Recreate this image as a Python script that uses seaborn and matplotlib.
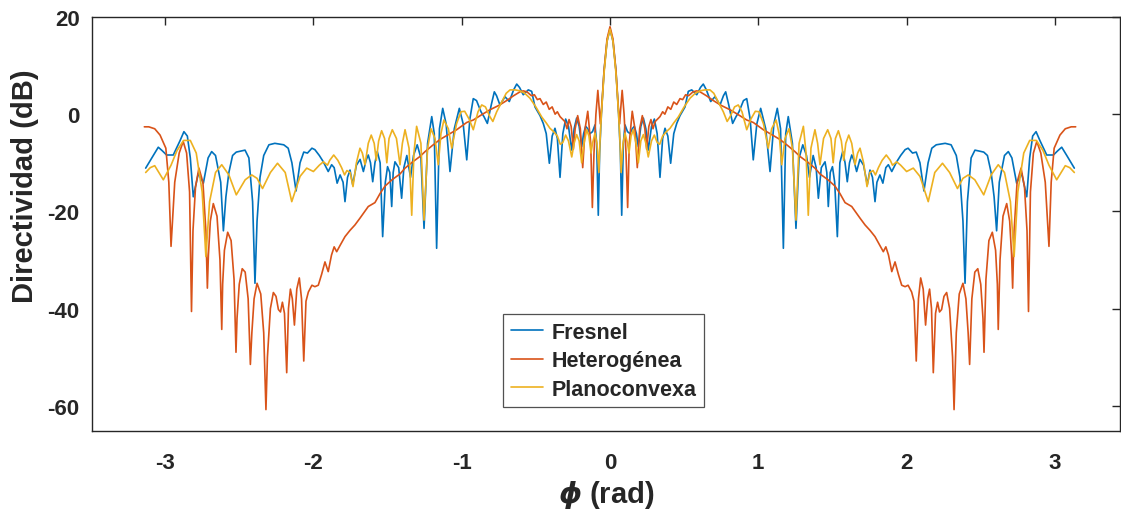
import numpy as np
import pandas as pd
import matplotlib
matplotlib.use("Agg")
import matplotlib.pyplot as plt
import seaborn as sns

# ---- data (right half, phi >= 0); pattern is symmetric ----
phi_fresnel = [0.000, 0.020, 0.040, 0.058, 0.070, 0.079, 0.090, 0.101, 0.118, 0.135, 0.150, 0.164,
               0.178, 0.191, 0.208, 0.225, 0.242, 0.258, 0.280, 0.299, 0.318, 0.337, 0.355, 0.371,
               0.390, 0.409, 0.430, 0.450, 0.472, 0.506, 0.528, 0.551, 0.585, 0.610, 0.629, 0.650,
               0.679, 0.708, 0.742, 0.765, 0.780, 0.800, 0.827, 0.850, 0.870, 0.900, 0.922, 0.945,
               0.966, 0.990, 1.016, 1.050, 1.079, 1.105, 1.128, 1.150, 1.169, 1.185, 1.202, 1.230,
               1.254, 1.275, 1.300, 1.325, 1.345, 1.370, 1.390, 1.405, 1.425, 1.450, 1.462, 1.472,
               1.485, 1.500, 1.515, 1.533, 1.550, 1.569, 1.585, 1.600, 1.615, 1.630, 1.645, 1.663,
               1.685, 1.710, 1.735, 1.753, 1.770, 1.787, 1.800, 1.820, 1.840, 1.860, 1.877, 1.900,
               1.933, 1.960, 1.990, 2.010, 2.040, 2.065, 2.090, 2.117, 2.145, 2.170, 2.200, 2.260,
               2.300, 2.335, 2.360, 2.380, 2.394, 2.410, 2.435, 2.461, 2.490, 2.520, 2.545, 2.570,
               2.590, 2.607, 2.625, 2.660, 2.686, 2.710, 2.742, 2.776, 2.810, 2.830, 2.850, 2.873,
               2.900, 2.945, 2.990, 3.020, 3.046, 3.080, 3.131]
db_fresnel = [17.5, 15.0, 9.0, 0.0, -8.0, -20.8, -6.0, -2.2, -3.6, -4.0, -3.0, -2.5,
              -4.0, -6.7, -2.5, -0.8, -3.0, -7.4, -2.5, -1.0, -4.0, -13.0, -5.0, -2.9,
              -4.5, -10.1, -4.0, -1.9, -0.3, 1.5, 4.7, 5.0, 4.0, 5.5, 6.2, 5.0,
              2.6, 3.6, 1.9, 3.8, 4.6, 2.0, -1.9, -0.5, 0.5, 2.8, 3.2, -1.0,
              -9.4, -2.0, 1.2, -3.0, -11.8, -2.0, 1.2, -3.0, -27.6, -4.0, -0.5, -6.0,
              -23.5, -9.0, -6.3, -8.5, -13.0, -8.5, -11.0, -17.3, -11.0, -9.8, -12.0, -19.0,
              -12.0, -10.8, -14.0, -25.2, -10.0, -7.7, -10.0, -13.9, -10.0, -8.4, -9.5, -11.8,
              -9.3, -10.5, -14.5, -11.5, -13.0, -18.0, -14.0, -12.5, -14.2, -11.0, -10.4, -11.8,
              -9.8, -8.5, -7.3, -7.0, -8.0, -7.8, -10.0, -15.8, -10.0, -7.0, -6.3, -6.0,
              -6.3, -8.5, -13.0, -22.0, -34.8, -18.0, -9.0, -7.4, -7.6, -7.8, -8.5, -12.0,
              -17.0, -24.0, -14.0, -8.5, -7.7, -9.0, -14.2, -12.2, -17.0, -9.0, -4.5, -3.6,
              -5.5, -8.4, -8.4, -7.5, -6.8, -8.5, -11.1]

phi_hetero = [0.000, 0.020, 0.040, 0.055, 0.065, 0.072, 0.082, 0.095, 0.108, 0.119, 0.130, 0.150,
              0.168, 0.184, 0.200, 0.218, 0.235, 0.247, 0.262, 0.276, 0.290, 0.305, 0.337, 0.355,
              0.370, 0.390, 0.410, 0.430, 0.450, 0.472, 0.490, 0.510, 0.530, 0.560, 0.585, 0.607,
              0.650, 0.697, 0.750, 0.810, 0.870, 0.922, 0.966, 1.034, 1.090, 1.146, 1.200, 1.247,
              1.281, 1.330, 1.382, 1.416, 1.470, 1.517, 1.550, 1.585, 1.630, 1.686, 1.720, 1.753,
              1.787, 1.820, 1.843, 1.860, 1.878, 1.900, 1.922, 1.945, 1.967, 1.990, 2.010, 2.034,
              2.050, 2.065, 2.080, 2.095, 2.112, 2.128, 2.142, 2.155, 2.168, 2.180, 2.195, 2.209,
              2.222, 2.236, 2.252, 2.270, 2.290, 2.310, 2.320, 2.335, 2.355, 2.380, 2.400, 2.415,
              2.425, 2.440, 2.460, 2.480, 2.500, 2.515, 2.522, 2.535, 2.555, 2.578, 2.600, 2.612,
              2.618, 2.630, 2.650, 2.675, 2.695, 2.708, 2.715, 2.725, 2.745, 2.772, 2.795, 2.812,
              2.822, 2.835, 2.855, 2.878, 2.905, 2.935, 2.960, 2.975, 2.995, 3.034, 3.070, 3.110,
              3.140]
db_hetero = [18.0, 15.5, 9.0, 2.0, -2.0, 1.0, 4.9, 0.0, -8.0, -19.2, -6.0, 0.6,
             -3.0, -11.0, -3.0, -0.3, -3.0, -7.2, -2.5, -1.1, -3.0, -1.5, -0.5, 0.5,
             0.0, 1.5, 1.0, 2.5, 2.0, 3.2, 3.0, 4.0, 3.8, 4.6, 4.8, 4.6,
             3.8, 2.8, 1.8, 0.9, -0.2, -1.2, -1.7, -3.2, -4.2, -5.2, -6.5, -7.7,
             -8.7, -9.8, -11.1, -12.3, -13.5, -14.8, -16.3, -18.2, -19.0, -21.4, -22.8, -23.9,
             -25.2, -27.0, -28.3, -27.3, -29.0, -32.4, -30.4, -33.0, -35.2, -35.5, -35.2, -36.6,
             -38.5, -50.8, -38.0, -33.7, -36.0, -43.4, -38.0, -36.0, -40.0, -53.2, -41.0, -38.7,
             -40.7, -40.2, -37.5, -36.7, -40.0, -50.0, -60.8, -45.0, -37.0, -34.8, -38.0, -45.0,
             -51.5, -38.0, -32.5, -31.8, -35.0, -42.0, -49.0, -34.0, -26.0, -24.3, -28.0, -35.0,
             -44.3, -30.0, -21.0, -18.4, -22.0, -29.0, -35.8, -24.0, -14.0, -11.1, -15.0, -24.0,
             -40.6, -16.0, -8.0, -5.6, -8.0, -14.0, -27.2, -14.0, -7.0, -4.3, -3.0, -2.6,
             -2.6]

phi_plano = [0.000, 0.020, 0.040, 0.058, 0.068, 0.075, 0.088, 0.101, 0.118, 0.128, 0.142, 0.157,
             0.175, 0.191, 0.208, 0.225, 0.242, 0.258, 0.280, 0.299, 0.318, 0.335, 0.355, 0.380,
             0.405, 0.430, 0.460, 0.500, 0.540, 0.575, 0.607, 0.640, 0.674, 0.700, 0.730, 0.764,
             0.790, 0.810, 0.840, 0.865, 0.890, 0.922, 0.950, 0.980, 1.005, 1.035, 1.067, 1.090,
             1.120, 1.140, 1.158, 1.180, 1.207, 1.230, 1.254, 1.275, 1.304, 1.322, 1.337, 1.355,
             1.382, 1.400, 1.416, 1.440, 1.468, 1.490, 1.505, 1.520, 1.540, 1.560, 1.576, 1.590,
             1.610, 1.630, 1.652, 1.670, 1.686, 1.710, 1.733, 1.752, 1.774, 1.790, 1.810, 1.835,
             1.863, 1.890, 1.905, 1.933, 1.960, 2.000, 2.045, 2.090, 2.146, 2.190, 2.242, 2.290,
             2.343, 2.380, 2.416, 2.460, 2.520, 2.570, 2.618, 2.660, 2.700, 2.725, 2.750, 2.790,
             2.830, 2.875, 2.920, 2.960, 3.012, 3.070, 3.100, 3.131]
db_plano = [17.5, 15.0, 8.5, 0.0, -6.0, -12.0, -6.0, -3.9, -6.0, -8.0, -4.5, -3.2,
            -6.0, -10.0, -5.5, -4.2, -6.0, -8.8, -5.5, -4.3, -5.8, -6.2, -4.5, -3.6,
            -2.9, -1.8, -0.6, 1.5, 3.3, 4.3, 4.8, 5.0, 5.0, 4.3, 2.5, 0.5,
            -1.5, -0.5, 1.5, 1.9, 0.5, -3.2, -1.0, 0.6, 0.5, -2.0, -7.0, -3.0,
            -1.2, -4.0, -10.4, -5.0, -3.0, -7.0, -21.8, -6.0, -2.5, -8.0, -20.8, -7.0,
            -3.2, -6.0, -10.4, -5.0, -3.2, -5.0, -10.0, -5.0, -3.4, -5.5, -9.5, -6.0,
            -4.3, -6.0, -10.4, -8.0, -7.0, -10.0, -14.9, -12.0, -11.6, -12.5, -11.0, -9.5,
            -8.4, -9.5, -10.5, -9.8, -10.5, -11.8, -11.1, -12.8, -18.0, -12.0, -10.1, -12.0,
            -15.3, -13.2, -12.5, -13.5, -16.6, -12.5, -10.4, -12.0, -18.0, -29.3, -16.0, -8.0,
            -5.4, -5.4, -7.5, -10.5, -13.5, -10.6, -11.0, -12.0]

series_names = ["Fresnel", "Heterogénea", "Planoconvexa"]
colors = ["#0072BD", "#D95319", "#EDB120"]
xticks = [-3, -2, -1, 0, 1, 2, 3]
yticks = [-60, -40, -20, 0, 20]


def full(phi, db):
    phi = np.asarray(phi)
    db = np.asarray(db)
    return (np.concatenate([-phi[:0:-1], phi]), np.concatenate([db[:0:-1], db]))


frames = []
for name, (p, d) in zip(series_names, [(phi_fresnel, db_fresnel),
                                       (phi_hetero, db_hetero),
                                       (phi_plano, db_plano)]):
    x, y = full(p, d)
    frames.append(pd.DataFrame({"phi": x, "dB": y, "serie": name}))
df = pd.concat(frames, ignore_index=True)

sns.set_style("white")
plt.rcParams["font.family"] = ["Liberation Sans", "DejaVu Sans"]
plt.rcParams["font.weight"] = "bold"
plt.rcParams["mathtext.fontset"] = "dejavusans"

fig = plt.figure(figsize=(11.21, 5.10), dpi=100)
W, H = 1121, 510
ax = fig.add_axes([92 / W, (H - 432) / H, (1120 - 92) / W, (432 - 18) / H])

sns.lineplot(data=df, x="phi", y="dB", hue="serie", hue_order=series_names,
             palette=colors, estimator=None, sort=False, units="serie",
             linewidth=1.2, ax=ax, legend=True)

ax.set_xlim((92 - 610) / 148.3, (1120 - 610) / 148.3)
ax.set_ylim(-65.2, 20)
ax.set_xticks(xticks)
ax.set_yticks(yticks)
ax.set_xticklabels([str(t) for t in xticks])
ax.set_yticklabels([str(t) for t in yticks])
ax.tick_params(direction="in", top=True, right=True, length=6, width=1.0,
               labelsize=16, colors="#262626")
ax.tick_params(axis="x", pad=15)
ax.tick_params(axis="y", pad=9)
for lab in ax.get_xticklabels() + ax.get_yticklabels():
    lab.set_fontweight("bold")
    lab.set_color("#262626")
for s in ax.spines.values():
    s.set_visible(True)
    s.set_color("#262626")
    s.set_linewidth(1.0)

ax.set_xlabel(r"$\phi$ (rad)", fontsize=21, fontweight="bold", color="#262626", labelpad=4)
ax.set_ylabel("Directividad (dB)", fontsize=21, fontweight="bold", color="#262626")
ax.yaxis.set_label_coords(-0.052, 0.594)

leg = ax.legend(loc="upper left", bbox_to_anchor=(0.40, 0.282), frameon=True,
                fancybox=False, edgecolor="#262626", fontsize=15.5, handlelength=1.5,
                borderpad=0.35, labelspacing=0.35, handletextpad=0.4, borderaxespad=0.0)
leg.get_frame().set_linewidth(0.9)
for t in leg.get_texts():
    t.set_fontweight("bold")
    t.set_color("#262626")
for l in leg.get_lines():
    l.set_linewidth(1.2)

fig.savefig("out.png", dpi=100)
